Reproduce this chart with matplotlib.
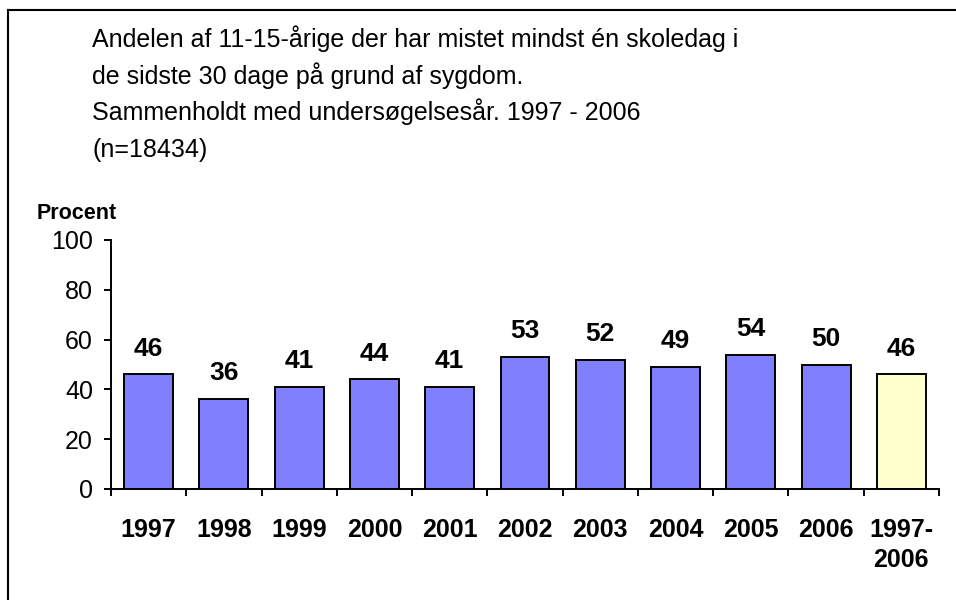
import matplotlib.pyplot as plt
from matplotlib.lines import Line2D
from matplotlib.ticker import FixedLocator

plt.rcParams['font.family'] = ['Liberation Sans', 'DejaVu Sans']

# data
categories = ['1997', '1998', '1999', '2000', '2001', '2002', '2003',
              '2004', '2005', '2006', '1997-\n2006']
values = [46, 36, 41, 44, 41, 53, 52, 49, 54, 50, 46]
bar_colors = ['#8080FF'] * 10 + ['#FFFFCC']
title_lines = [
    'Andelen af 11-15-årige der har mistet mindst én skoledag i',
    'de sidste 30 dage på grund af sygdom.',
    'Sammenholdt med undersøgelsesår. 1997 - 2006',
    '(n=18434)',
]

W, H = 956, 600
fig = plt.figure(figsize=(W / 100, H / 100), dpi=100)

# plot area in pixels: x 111..939, y 240..489
ax = fig.add_axes([111 / W, 1 - 489 / H, (939 - 111) / W, (489 - 240) / H])

x = range(len(categories))
bars = ax.bar(x, values, width=0.65, color=bar_colors,
              edgecolor='black', linewidth=1.4)
ax.bar_label(bars, labels=[str(v) for v in values], padding=10,
             fontsize=19, fontweight='bold')

ax.set_xlim(-0.5, len(categories) - 0.5)
ax.set_ylim(0, 100)
ax.set_yticks(range(0, 101, 20))

ax.set_xticks(list(x))
ax.set_xticklabels(categories, fontsize=18, fontweight='bold', linespacing=1.3,
                   va='top')
ax.xaxis.set_minor_locator(FixedLocator([i - 0.5 for i in range(len(categories) + 1)]))
ax.tick_params(axis='x', which='major', length=0, pad=21)
ax.tick_params(axis='x', which='minor', length=5, width=1.4, direction='out')
ax.tick_params(axis='y', length=5, width=1.4, direction='out', pad=8,
               labelsize=18)

for side in ['top', 'right']:
    ax.spines[side].set_visible(False)
for side in ['left', 'bottom']:
    ax.spines[side].set_linewidth(1.4)

# titles as figure text
for i, line in enumerate(title_lines):
    fig.text(92 / W, 1 - (47 + i * 36.7) / H, line, fontsize=18,
             ha='left', va='baseline')

fig.text(37 / W, 1 - 219 / H, 'Procent', fontsize=15.5, fontweight='bold',
         ha='left', va='baseline')

# outer frame (only left and top edges are visible in the crop)
fig.add_artist(Line2D([8 / W, 8 / W], [0, 1 - 10 / H], color='black',
                      linewidth=1.5, transform=fig.transFigure))
fig.add_artist(Line2D([8 / W, 1], [1 - 10 / H, 1 - 10 / H], color='black',
                      linewidth=1.5, transform=fig.transFigure))

fig.savefig('out.png', dpi=100)
